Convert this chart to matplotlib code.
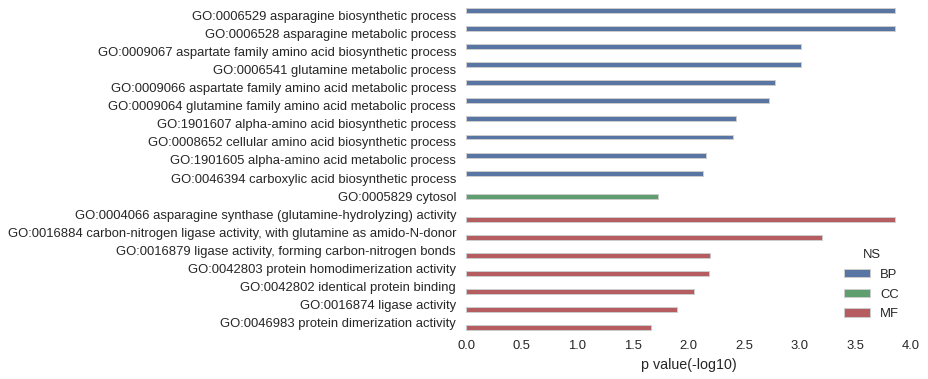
import colorsys
import matplotlib
matplotlib.use("Agg")
import matplotlib.pyplot as plt
import matplotlib.colors as mcolors
import numpy as np

plt.rcParams['font.family'] = ['Liberation Sans', 'DejaVu Sans']

terms = [
    "GO:0006529 asparagine biosynthetic process",
    "GO:0006528 asparagine metabolic process",
    "GO:0009067 aspartate family amino acid biosynthetic process",
    "GO:0006541 glutamine metabolic process",
    "GO:0009066 aspartate family amino acid metabolic process",
    "GO:0009064 glutamine family amino acid metabolic process",
    "GO:1901607 alpha-amino acid biosynthetic process",
    "GO:0008652 cellular amino acid biosynthetic process",
    "GO:1901605 alpha-amino acid metabolic process",
    "GO:0046394 carboxylic acid biosynthetic process",
    "GO:0005829 cytosol",
    "GO:0004066 asparagine synthase (glutamine-hydrolyzing) activity",
    "GO:0016884 carbon-nitrogen ligase activity, with glutamine as amido-N-donor",
    "GO:0016879 ligase activity, forming carbon-nitrogen bonds",
    "GO:0042803 protein homodimerization activity",
    "GO:0042802 identical protein binding",
    "GO:0016874 ligase activity",
    "GO:0046983 protein dimerization activity",
]
ns = ["BP"] * 10 + ["CC"] + ["MF"] * 7
pvals = [3.86, 3.86, 3.01, 3.01, 2.78, 2.72, 2.43, 2.40, 2.16, 2.13,
         1.73,
         3.86, 3.20, 2.19, 2.18, 2.05, 1.90, 1.66]

ns_levels = ["BP", "CC", "MF"]
base_colors = ["#4C72B0", "#55A868", "#C44E52"]


def desat(c, prop=0.75):
    h, l, s = colorsys.rgb_to_hls(*mcolors.to_rgb(c))
    return colorsys.hls_to_rgb(h, l, s * prop)


colors = [desat(c) for c in base_colors]

fig = plt.figure(figsize=(928 / 72, 379 / 72), dpi=72)
ax = fig.add_axes([466 / 928, 1 - 332 / 379, 445 / 928, 326 / 379])

width = 0.8 / len(ns_levels)
for i, (lev, col) in enumerate(zip(ns_levels, colors)):
    offset = -0.4 + width * (i + 0.5)
    idx = [k for k, n in enumerate(ns) if n == lev]
    ax.barh(np.array(idx) + offset, [pvals[k] for k in idx], height=width,
            color=col, label=lev, edgecolor=(0.8, 0.8, 0.8), linewidth=1)

y = np.arange(len(terms))
ax.set_yticks(y)
ax.set_yticklabels(terms, fontsize=13, color="#262626")
ax.set_ylim(len(terms) - 0.5, -0.5)
ax.set_xlim(0, 4)
xt = np.arange(0, 4.01, 0.5)
ax.set_xticks(xt)
ax.set_xticklabels([f"{v:.1f}" for v in xt], fontsize=13, color="#262626")
ax.set_xlabel("p value(-log10)", fontsize=14.3, color="#262626", labelpad=6)
ax.tick_params(length=0)
ax.tick_params(axis="y", pad=10)
ax.tick_params(axis="x", pad=8)
for s in ax.spines.values():
    s.set_visible(False)

leg = ax.legend(title="NS", loc="lower right", bbox_to_anchor=(1.0, 0.0), frameon=False,
                fontsize=13, title_fontsize=13, handlelength=2.0, handleheight=0.65,
                labelspacing=0.6)
for t in leg.get_texts():
    t.set_color("#262626")
leg.get_title().set_color("#262626")

fig.savefig("out.png", dpi=72)
